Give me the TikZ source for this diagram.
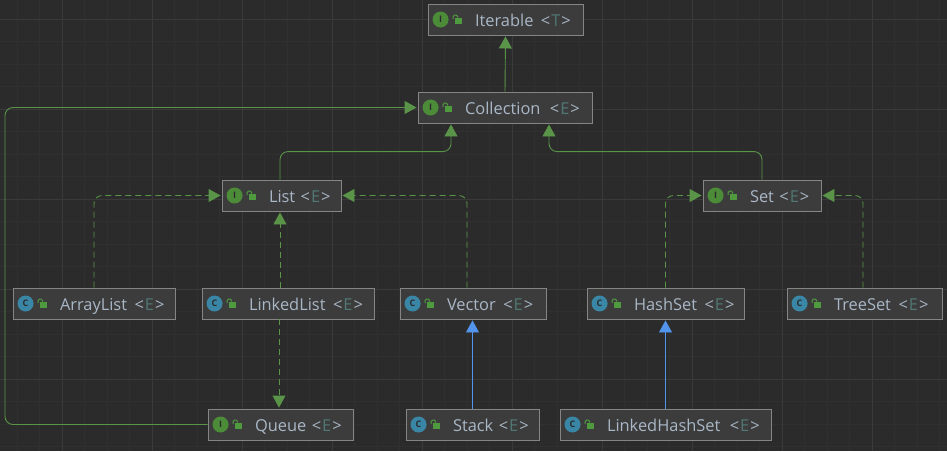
\documentclass[tikz,border=0pt]{standalone}
\usepackage{fontspec}
\setmainfont{Open Sans}
\usepackage{xcolor}
\usetikzlibrary{arrows.meta}

\definecolor{canvas}{HTML}{2B2B2B}
\definecolor{gridminor}{HTML}{303030}
\definecolor{gridmajor}{HTML}{3A3A3A}
\definecolor{boxfill}{HTML}{3C3C3C}
\definecolor{boxline}{HTML}{858585}
\definecolor{labeltext}{HTML}{A9B7C6}
\definecolor{typeparam}{HTML}{507874}
\definecolor{linkgreen}{HTML}{5A9448}
\definecolor{linkblue}{HTML}{5394EC}
\definecolor{lockgreen}{HTML}{4F9A3F}
\definecolor{ifacebadge}{HTML}{4C8C38}
\definecolor{classbadge}{HTML}{3A86A6}

\newcommand{\tparam}[1]{<\kern1pt\textcolor{typeparam}{#1}\kern1pt>}
\newcommand{\widegap}{\hspace{7.5pt}}

\tikzset{
    typebox/.style={draw=boxline, fill=boxfill, line width=.9pt, text=labeltext, anchor=center,
        minimum height=31pt, minimum width=#1, text width=#1-8pt, inner xsep=4pt, inner ysep=0pt,
        align=left, text height=14pt, text depth=1pt,
        font=\fontsize{16.4}{18}\selectfont, execute at begin node=\hspace*{43pt}},
    badge/.style={circle, inner sep=0pt, minimum size=16pt, text=canvas, font=\fontsize{9}{9}\bfseries\selectfont},
    extends/.style={draw=linkgreen, line width=.9pt, rounded corners=8pt, shorten >=1pt,
        -{Triangle[length=12pt,width=13pt,fill=linkgreen]}},
    implements/.style={extends, dash pattern=on 6pt off 4pt},
    subclass/.style={extends, draw=linkblue, -{Triangle[length=12pt,width=13pt,fill=linkblue]}},
}

\begin{document}
\begin{tikzpicture}[x=1pt,y=-1pt]
    \useasboundingbox (0,0) rectangle (947,451);
    \fill[canvas] (0,0) rectangle (947,451);

    % background grid
    \foreach \gx in {17,39.5,...,947} {\draw[gridminor, line width=.8pt] (\gx,0) -- (\gx,451);}
    \foreach \gy in {19,41.5,...,451} {\draw[gridminor, line width=.8pt] (0,\gy) -- (947,\gy);}
    \foreach \gx in {62,152,...,947} {\draw[gridmajor, line width=.8pt] (\gx,0) -- (\gx,451);}
    \foreach \gy in {19,109,...,451} {\draw[gridmajor, line width=.8pt] (0,\gy) -- (947,\gy);}

    \node (iterable) [typebox=155pt] at (505.5,19.5) {Iterable\widegap\tparam{T}};
    \node (collection) [typebox=174pt] at (505,107.5) {Collection\widegap\kern2pt\tparam{E}};
    \node (list) [typebox=119pt] at (281.5,195.5) {List \tparam{E}};
    \node (set) [typebox=118pt] at (762,195.5) {Set \tparam{E}};
    \node (arrayList) [typebox=162pt] at (94,303.5) {ArrayList\widegap\tparam{E}};
    \node (linkedList) [typebox=172pt] at (288,303.5) {LinkedList\widegap\tparam{E}};
    \node (vector) [typebox=146pt] at (473,303.5) {Vector\widegap\tparam{E}};
    \node (hashSet) [typebox=157pt] at (665.5,303.5) {HashSet\widegap\tparam{E}};
    \node (treeSet) [typebox=155pt] at (864.5,303.5) {TreeSet\widegap\tparam{E}};
    \node (queue) [typebox=145pt] at (280.5,424.5) {Queue \tparam{E}};
    \node (stack) [typebox=133pt] at (472.5,424.5) {Stack \tparam{E}};
    \node (linkedHashSet) [typebox=211pt] at (665.5,424.5) {LinkedHashSet\widegap\kern2pt\tparam{E}};

    % badge and lock in front of each label
    \foreach \boxname/\badgecol/\letter in {iterable/ifacebadge/I, collection/ifacebadge/I, list/ifacebadge/I,
        set/ifacebadge/I, queue/ifacebadge/I, arrayList/classbadge/C, linkedList/classbadge/C, vector/classbadge/C,
        hashSet/classbadge/C, treeSet/classbadge/C, stack/classbadge/C, linkedHashSet/classbadge/C} {
        \begin{scope}[shift={(\boxname.west)}]
            \node (\boxname Badge) [badge, fill=\badgecol] at (13,0) {\letter};
            \fill[lockgreen] (27,-2) rectangle (34,4);
            \draw[lockgreen, line width=1pt, rounded corners=1.5pt] (25.5,-.5) -- (25.5,-4.5) -- (30,-4.5) -- (30,-2);
        \end{scope}
    }

    \coordinate (railCorner) at (5,424.5);

    \path (collection.north) edge[extends] (iterable.south);
    \draw[extends] ([xshift=-1.5pt]list.north) -- ++(0,-28) -| ([xshift=-54pt]collection.south);
    \draw[extends] (set.north) -- ++(0,-28) -| ([xshift=44pt]collection.south);
    \draw[extends] (queue.west) -- (railCorner) |- (collection.west);

    \draw[implements] (arrayList.north) |- (list.west);
    \path ([xshift=-8pt]linkedList.north) edge[implements] ([xshift=-1.5pt]list.south);
    \draw[implements] (vector.north -| 467,0) |- (list.east);
    \draw[implements] (hashSet.north) |- (set.west);
    \draw[implements] ([xshift=-1.5pt]treeSet.north) |- (set.east);
    \path ([xshift=-9pt]linkedList.south) edge[implements] ([xshift=-1.5pt]queue.north);

    \path (stack.north) edge[subclass] ([xshift=-.5pt]vector.south);
    \path (linkedHashSet.north) edge[subclass] (hashSet.south);
\end{tikzpicture}
\end{document}
